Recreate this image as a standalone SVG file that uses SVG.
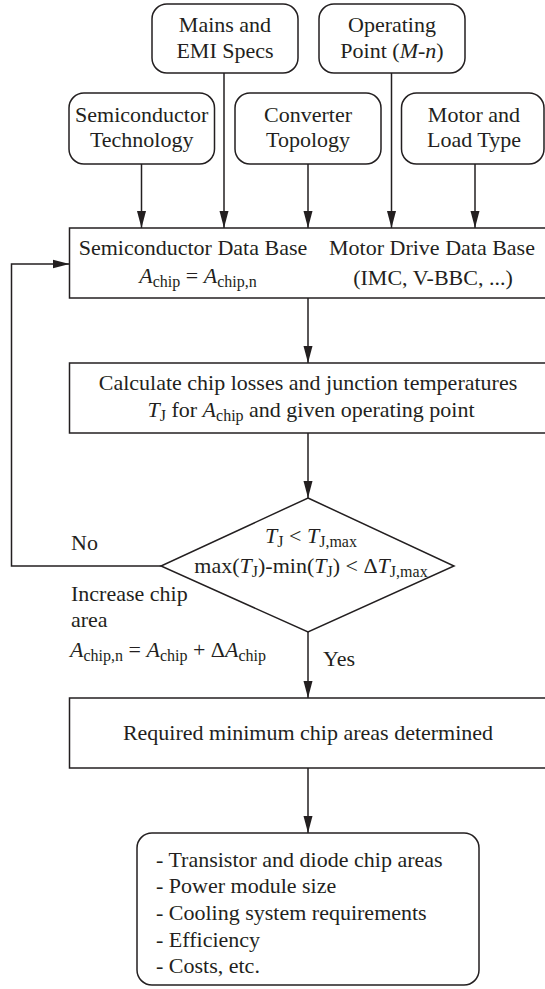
<svg xmlns="http://www.w3.org/2000/svg" width="545" height="989" viewBox="0 0 545 989">
<defs>
<style>
.box{fill:#fff;stroke:#231f20;stroke-width:1.5}
.ln{fill:none;stroke:#231f20;stroke-width:1.5}
text{font-family:"Liberation Serif","Times New Roman",serif;font-size:22px;fill:#231f20}
.c{text-anchor:middle}
.i{font-style:italic}
.s{font-size:16px}
</style>
<marker id="ah" markerUnits="userSpaceOnUse" markerWidth="17" markerHeight="10" refX="17" refY="5" orient="auto" viewBox="0 0 17 10">
<path d="M0,0.5 L17,5 L0,9.5 z" fill="#231f20"/>
</marker>
</defs>
<rect width="545" height="989" fill="#fff"/>
<g id="connectors">
<line class="ln" x1="141.5" y1="164" x2="141.5" y2="228" marker-end="url(#ah)"/>
<line class="ln" x1="224" y1="73" x2="224" y2="228" marker-end="url(#ah)"/>
<line class="ln" x1="308" y1="164" x2="308" y2="228" marker-end="url(#ah)"/>
<line class="ln" x1="391.5" y1="73" x2="391.5" y2="228" marker-end="url(#ah)"/>
<line class="ln" x1="475" y1="164" x2="475" y2="228" marker-end="url(#ah)"/>
<line class="ln" x1="308" y1="298" x2="308" y2="363" marker-end="url(#ah)"/>
<line class="ln" x1="308" y1="433" x2="308" y2="498" marker-end="url(#ah)"/>
<line class="ln" x1="308" y1="632" x2="308" y2="698" marker-end="url(#ah)"/>
<line class="ln" x1="308" y1="768" x2="308" y2="833" marker-end="url(#ah)"/>
<polyline class="ln" points="161,566 11.5,566 11.5,264 69.5,264" marker-end="url(#ah)"/>
<text x="71" y="550">No</text>
<text x="71" y="601">Increase chip</text>
<text x="71" y="627">area</text>
<text x="70" y="657"><tspan class="i">A</tspan><tspan class="s" dy="4">chip,n</tspan><tspan dy="-4"> = </tspan><tspan class="i">A</tspan><tspan class="s" dy="4">chip</tspan><tspan dy="-4"> + Δ</tspan><tspan class="i">A</tspan><tspan class="s" dy="4">chip</tspan></text>
<text x="323" y="666">Yes</text>
</g>
<g id="mains">
<rect class="box" x="152" y="4" width="146" height="69" rx="15"/>
<text class="c" x="225" y="32">Mains and</text>
<text class="c" x="225" y="58">EMI Specs</text>
</g>
<g id="operating">
<rect class="box" x="319" y="4" width="146" height="69" rx="15"/>
<text class="c" x="392" y="32">Operating</text>
<text class="c" x="392" y="58">Point (<tspan class="i">M-n</tspan>)</text>
</g>
<g id="semitech">
<rect class="box" x="69" y="93" width="145.5" height="71" rx="15"/>
<text class="c" x="141.7" y="122">Semiconductor</text>
<text class="c" x="141.7" y="147">Technology</text>
</g>
<g id="topology">
<rect class="box" x="235" y="93" width="146" height="71" rx="15"/>
<text class="c" x="308" y="122">Converter</text>
<text class="c" x="308" y="147">Topology</text>
</g>
<g id="motor">
<rect class="box" x="401.5" y="93" width="142.5" height="71" rx="15"/>
<text class="c" x="474" y="122">Motor and</text>
<text class="c" x="474" y="147">Load Type</text>
</g>
<g id="database">
<rect class="box" x="69.5" y="228" width="490" height="70"/>
<text class="c" x="193" y="255">Semiconductor Data Base</text>
<text class="c" x="198" y="283"><tspan class="i">A</tspan><tspan class="s" dy="4">chip</tspan><tspan dy="-4"> = </tspan><tspan class="i">A</tspan><tspan class="s" dy="4">chip,n</tspan></text>
<text class="c" x="432" y="255">Motor Drive Data Base</text>
<text class="c" x="433" y="285">(IMC, V-BBC, ...)</text>
</g>
<g id="calc">
<rect class="box" x="69.5" y="363" width="490" height="70"/>
<text class="c" x="308" y="390">Calculate chip losses and junction temperatures</text>
<text class="c" x="311" y="417"><tspan class="i">T</tspan><tspan class="s" dy="4">J</tspan><tspan dy="-4"> for </tspan><tspan class="i">A</tspan><tspan class="s" dy="4">chip</tspan><tspan dy="-4"> and given operating point</tspan></text>
</g>
<g id="decision">
<polygon class="box" points="308,498 454,566 308,632 161,566"/>
<text class="c" x="311" y="543"><tspan class="i">T</tspan><tspan class="s" dy="4">J</tspan><tspan dy="-4"> &lt; </tspan><tspan class="i">T</tspan><tspan class="s" dy="4">J,max</tspan></text>
<text class="c" x="311" y="573">max(<tspan class="i">T</tspan><tspan class="s" dy="4">J</tspan><tspan dy="-4">)-min(</tspan><tspan class="i">T</tspan><tspan class="s" dy="4">J</tspan><tspan dy="-4">) &lt; Δ</tspan><tspan class="i">T</tspan><tspan class="s" dy="4">J,max</tspan></text>
</g>
<g id="required">
<rect class="box" x="69.5" y="698" width="490" height="70"/>
<text class="c" x="308" y="740">Required minimum chip areas determined</text>
</g>
<g id="results">
<rect class="box" x="137" y="833" width="342" height="152" rx="15"/>
<text x="156" y="867">- Transistor and diode chip areas</text>
<text x="156" y="893">- Power module size</text>
<text x="156" y="920">- Cooling system requirements</text>
<text x="156" y="947">- Efficiency</text>
<text x="156" y="973">- Costs, etc.</text>
</g>
</svg>
